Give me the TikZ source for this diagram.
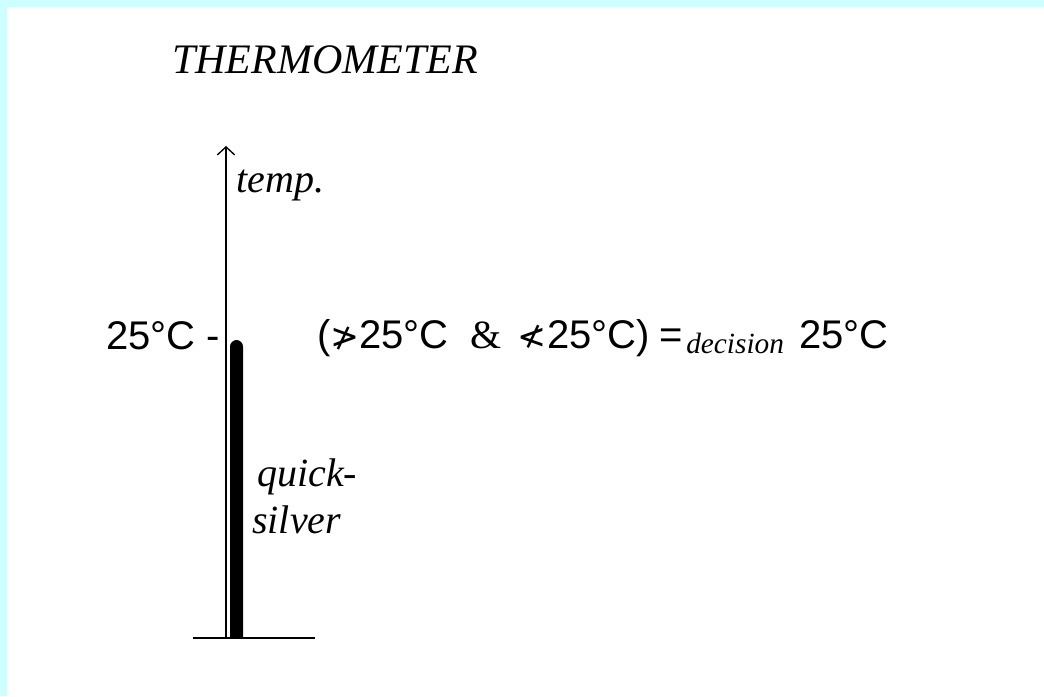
\documentclass[tikz,border=0pt]{standalone}
\usepackage{fontspec}
\setmainfont{Liberation Serif}
\setsansfont{Liberation Sans}
\newfontfamily\symfont{DejaVu Sans}
\usepackage{xcolor}
\usepackage{tikz}
\usetikzlibrary{arrows.meta}
\definecolor{framecyan}{RGB}{204,255,255}
\newcommand{\relsym}[1]{{\fontsize{26}{32}\selectfont\symfont #1}}

\begin{document}
\begin{tikzpicture}[
    x=0.75pt, y=-0.75pt,
    lbl/.style={inner sep=0pt, anchor=base west, font=\fontsize{30}{36}\selectfont\itshape},
    val/.style={inner sep=0pt, anchor=base west, font=\fontsize{30}{36}\selectfont\sffamily},
    sub/.style={inner sep=0pt, anchor=base west, font=\fontsize{22}{26}\selectfont\itshape},
    axis/.style={-{Straight Barb[length=6pt,width=13pt]}, line width=1pt}
]
\useasboundingbox (0,0) rectangle (1044,696);
\fill[framecyan] (0,0) rectangle (1044,696);
\fill[white] (7,7) rectangle (1044,696);
% title
\node[lbl, font=\fontsize{31.5}{36}\selectfont\itshape] (title) at (172,73) {THERMOMETER};
% axis with quicksilver column
\coordinate (base) at (226,638);
\coordinate (top) at (226,146);
\draw[axis] (base) -- (top);
\fill[black, rounded corners=5pt] (230,638) -- (230,340) -- (243,340) [sharp corners] -- (243,638) -- cycle;
\coordinate (gl) at (193,638);
\coordinate (gr) at (315,638);
\draw[line width=1.1pt] (gl) -- (gr);
\node[lbl] (temp) at (236,192) {temp.};
\node[val] (mark) at (106,349) {25°C -};
\node[lbl] (quick) at (257,486) {quick-};
\node[lbl] (silver) at (252,533) {silver};
% decision statement
\node[val] (open) at (317,348) {(\relsym{≯}};
\node[val] (t1) at (359,348) {25°C};
\node[lbl, font=\fontsize{30}{36}\selectfont] (amp) at (470,348) {\&};
\node[val] (nlt) at (517,348) {\relsym{≮}};
\node[val] (t2) at (547,348) {25°C)};
\node[val] (eq) at (659,348) {=};
\node[sub] (dec) at (686,353) {decision};
\node[val] (t3) at (799,348) {25°C};
\end{tikzpicture}
\end{document}
